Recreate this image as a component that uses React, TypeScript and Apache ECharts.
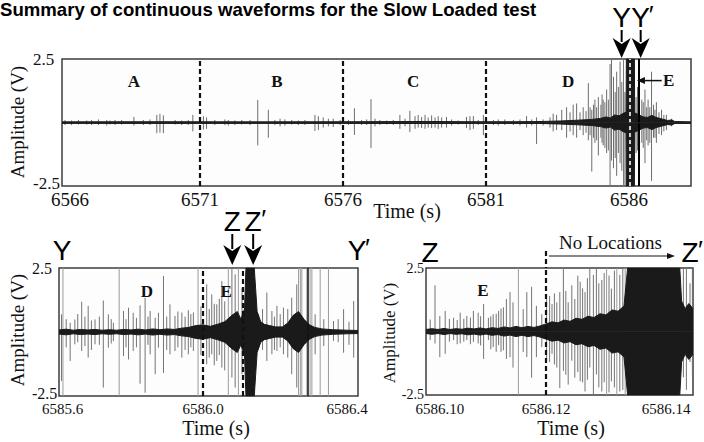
import { useEffect, useRef } from "react";
import * as echarts from "echarts";

const FIG_TITLE = "Summary of continuous waveforms for the Slow Loaded test";
const SERIF = '"Liberation Serif", "Times New Roman", serif';
const SANS = '"Liberation Sans", Arial, sans-serif';
const AMP = 2.5;

// ---------- Panel 1: whole record (s) ----------
const topRange = [6566.175, 6588.17];
const topTickLabelAt = [6566.455, 6571, 6576, 6581, 6586];
const topPhaseBoundaries = [6571, 6576, 6581];
const topSections: [string, number][] = [["A", 6568.69], ["B", 6573.69], ["C", 6578.45], ["D", 6583.87]];
// dense trace core: [time, half-amplitude V]
const topEnvelope = [
  [6566.18, 0.025], [6569.6, 0.03], [6573.0, 0.025], [6576.4, 0.03], [6579.0, 0.04], [6580.5, 0.03],
  [6582.0, 0.03], [6583.0, 0.04], [6583.6, 0.06], [6584.2, 0.09], [6584.7, 0.12], [6585.0, 0.16],
  [6585.2, 0.22], [6585.35, 0.18], [6585.5, 0.3], [6585.65, 0.26], [6585.8, 0.36], [6585.9, 0.4],
  [6585.91, 2.5], [6586.19, 2.5], [6586.2, 0.38], [6586.35, 0.3], [6586.5, 0.22], [6586.65, 0.2],
  [6586.8, 0.28], [6586.95, 0.2], [6587.15, 0.14], [6587.35, 0.08], [6587.5, 0.1], [6587.6, 0.04],
  [6588.17, 0.025],
];
// individual excursions: [time, up V, down V]
const topSpikes = [
  [6566.28, 0.1, 0.1], [6566.51, 0.08, 0.1], [6566.75, 0.1, 0.08], [6567.04, 0.08, 0.08], [6567.21, 0.1, 0.1],
  [6567.45, 0.12, 0.1], [6567.74, 0.1, 0.12], [6567.85, 0.08, 0.08], [6568.03, 0.1, 0.1], [6568.26, 0.1, 0.08],
  [6568.69, 0.22, 0.12], [6569.02, 0.1, 0.1], [6569.25, 0.12, 0.1], [6569.49, 0.3, 0.42], [6569.6, 0.34, 0.4],
  [6569.72, 0.28, 0.42], [6570.13, 0.1, 0.08], [6570.36, 0.08, 0.1], [6570.59, 0.1, 0.1], [6570.75, 0.3, 0.35],
  [6571.12, 0.25, 0.28], [6571.23, 0.2, 0.25], [6571.52, 0.1, 0.1], [6571.87, 0.12, 0.1], [6571.99, 0.1, 0.12],
  [6572.22, 0.08, 0.1], [6572.46, 0.1, 0.08], [6572.75, 0.1, 0.1], [6573.02, 0.89, 0.9], [6573.39, 0.5, 0.6],
  [6573.62, 0.1, 0.1], [6573.8, 0.15, 0.15], [6573.97, 0.12, 0.12], [6574.21, 0.1, 0.08], [6574.44, 0.08, 0.1],
  [6574.67, 0.1, 0.1], [6575.02, 0.3, 0.33], [6575.14, 0.25, 0.3], [6575.31, 0.2, 0.2], [6575.49, 0.15, 0.15],
  [6575.66, 0.15, 0.18], [6575.9, 0.1, 0.1], [6576.19, 0.1, 0.1], [6576.4, 0.56, 0.49], [6576.65, 0.1, 0.1],
  [6576.83, 0.12, 0.1], [6576.98, 0.92, 1.0], [6577.12, 0.15, 0.15], [6577.29, 0.1, 0.1], [6577.53, 0.08, 0.08],
  [6577.76, 0.1, 0.1], [6577.99, 0.3, 0.25], [6578.17, 0.15, 0.15], [6578.34, 0.46, 0.38], [6578.52, 0.25, 0.25],
  [6578.63, 0.3, 0.2], [6578.75, 0.22, 0.22], [6578.87, 0.3, 0.25], [6578.98, 0.2, 0.2], [6579.1, 0.28, 0.22],
  [6579.22, 0.2, 0.2], [6579.33, 0.25, 0.25], [6579.45, 0.2, 0.2], [6579.62, 0.22, 0.2], [6579.8, 0.12, 0.12],
  [6580.03, 0.08, 0.08], [6580.32, 0.22, 0.22], [6580.44, 0.25, 0.3], [6580.56, 0.25, 0.25], [6580.73, 0.1, 0.1],
  [6580.91, 0.3, 0.5], [6581.26, 0.1, 0.1], [6581.43, 0.12, 0.12], [6581.66, 0.12, 0.1], [6581.96, 0.1, 0.1],
  [6582.19, 0.12, 0.12], [6582.42, 0.25, 0.2], [6582.6, 0.12, 0.12], [6582.77, 0.2, 0.85], [6583.0, 0.12, 0.12],
  [6583.24, 0.2, 0.2], [6583.35, 0.35, 0.35], [6583.47, 0.3, 0.3], [6583.65, 0.5, 0.3], [6583.82, 0.6, 0.6],
  [6583.94, 0.4, 0.35], [6584.05, 0.7, 0.5], [6584.17, 0.75, 0.6], [6584.29, 0.4, 0.3], [6584.4, 0.6, 0.5],
  [6584.5, 0.45, 0.4], [6584.58, 1.55, 0.7], [6584.64, 0.6, 0.5], [6584.7, 0.5, 1.93], [6584.76, 0.7, 0.6],
  [6584.81, 0.9, 0.8], [6584.87, 0.6, 0.7], [6584.93, 1.0, 1.3], [6585.02, 0.7, 0.6], [6585.06, 1.1, 0.8],
  [6585.1, 0.9, 0.9], [6585.16, 0.8, 1.0], [6585.22, 1.3, 1.2], [6585.28, 0.9, 1.1], [6585.34, 2.3, 2.5],
  [6585.39, 2.5, 1.5], [6585.46, 1.8, 1.8], [6585.52, 1.2, 1.4], [6585.57, 2.0, 2.1], [6585.63, 1.4, 1.2],
  [6585.69, 2.4, 1.6], [6585.75, 1.6, 1.9], [6585.81, 2.5, 2.5], [6585.86, 1.2, 2.5], [6586.25, 1.0, 1.2],
  [6586.3, 1.4, 1.1], [6586.45, 0.9, 0.8], [6586.5, 0.8, 1.0], [6586.56, 1.3, 1.6], [6586.62, 0.6, 0.7],
  [6586.67, 0.9, 0.9], [6586.73, 0.6, 0.8], [6586.79, 2.0, 2.3], [6586.86, 0.7, 0.6], [6586.91, 0.5, 0.6],
  [6586.96, 0.8, 0.8], [6587.05, 0.4, 0.45], [6587.14, 0.5, 0.5], [6587.22, 0.3, 0.35], [6587.31, 0.3, 0.3],
  [6587.49, 0.15, 0.15],
];
const topWindowDash = [6586.03];
const topWindowEdge = [6586.36];
const topArrows: [string, number][] = [["Y", 6585.745], ["Y′", 6586.41]];
const topEPointer = { text: "E", tip: 6586.28, labelAt: 6587.39, amp: 1.65 };

// ---------- Panel 2: Y – Y′ ----------
const ylRange = [6585.6, 6586.43];
const ylTickLabelAt = [6585.61, 6586.0, 6586.4];
const ylBoundaries = [6586.0, 6586.114];
const ylSections: [string, number][] = [["D", 6585.844], ["E", 6586.064]];
const ylEnvelope = [
  [6585.6, 0.08], [6585.62, 0.11], [6585.64, 0.07], [6585.66, 0.1], [6585.68, 0.08], [6585.7, 0.1],
  [6585.72, 0.07], [6585.74, 0.09], [6585.76, 0.07], [6585.78, 0.1], [6585.8, 0.08], [6585.82, 0.11],
  [6585.84, 0.08], [6585.86, 0.12], [6585.88, 0.09], [6585.9, 0.12], [6585.92, 0.1], [6585.94, 0.15],
  [6585.96, 0.18], [6585.98, 0.25], [6586.0, 0.28], [6586.02, 0.22], [6586.04, 0.3], [6586.06, 0.4],
  [6586.08, 0.65], [6586.095, 0.8], [6586.105, 0.5], [6586.115, 0.9], [6586.119, 2.5], [6586.142, 2.5],
  [6586.15, 0.8], [6586.16, 0.4], [6586.17, 0.3], [6586.185, 0.25], [6586.2, 0.2], [6586.22, 0.2],
  [6586.235, 0.35], [6586.25, 0.65], [6586.265, 0.8], [6586.28, 0.5], [6586.295, 0.28], [6586.31, 0.18],
  [6586.33, 0.12], [6586.36, 0.09], [6586.4, 0.07], [6586.43, 0.06],
];
const ylSpikes = [
  [6585.607, 0.69, 1.91], [6585.611, 2.5, 2.5], [6585.62, 0.5, 0.6], [6585.631, 0.36, 1.13], [6585.644, 0.49, 0.48],
  [6585.652, 0.7, 0.4], [6585.663, 1.18, 0.74], [6585.672, 0.6, 0.55], [6585.681, 1.02, 1.0], [6585.69, 0.45, 0.7],
  [6585.7, 0.49, 0.48], [6585.712, 0.6, 0.5], [6585.723, 1.23, 2.17], [6585.737, 0.69, 0.61], [6585.745, 0.5, 0.45],
  [6585.751, 0.36, 0.35], [6585.767, 2.5, 2.5], [6585.779, 0.82, 0.94], [6585.786, 0.5, 0.6],
  [6585.793, 0.95, 1.07], [6585.806, 0.75, 0.74], [6585.815, 0.55, 0.6], [6585.825, 1.04, 2.02], [6585.839, 1.34, 2.37],
  [6585.847, 0.6, 0.5], [6585.853, 0.82, 0.87], [6585.867, 0.56, 1.65], [6585.876, 0.75, 0.61], [6585.89, 2.19, 1.6],
  [6585.899, 0.6, 0.7], [6585.908, 1.08, 0.87], [6585.922, 0.63, 0.74], [6585.93, 0.8, 0.6], [6585.941, 0.76, 1.0],
  [6585.95, 0.6, 0.7], [6585.959, 0.85, 0.87], [6585.966, 0.7, 0.6], [6585.973, 0.76, 0.74], [6585.986, 2.5, 2.5],
  [6585.994, 1.0, 0.9], [6586.01, 1.86, 1.26], [6586.017, 0.9, 1.0], [6586.024, 1.47, 0.87], [6586.031, 1.1, 1.3],
  [6586.038, 1.08, 1.13], [6586.045, 1.3, 0.9], [6586.052, 1.99, 1.39], [6586.06, 1.2, 1.5], [6586.07, 2.5, 2.5],
  [6586.08, 2.5, 1.78], [6586.089, 2.25, 2.17], [6586.098, 2.5, 2.5], [6586.108, 1.73, 1.65], [6586.154, 0.69, 0.61],
  [6586.165, 0.9, 0.7], [6586.177, 1.54, 1.13], [6586.191, 0.82, 0.87], [6586.198, 0.6, 0.7], [6586.205, 1.02, 0.74],
  [6586.214, 0.7, 0.6], [6586.223, 0.95, 0.87], [6586.235, 0.9, 1.0], [6586.246, 1.34, 1.65], [6586.26, 1.86, 2.17],
  [6586.265, 2.5, 2.5], [6586.27, 2.5, 2.5], [6586.274, 2.5, 2.5], [6586.288, 2.5, 2.5], [6586.297, 2.5, 2.5],
  [6586.302, 2.5, 2.5], [6586.311, 0.69, 0.87], [6586.325, 2.5, 2.5], [6586.335, 0.5, 0.55], [6586.348, 2.5, 2.5],
  [6586.362, 0.43, 0.35], [6586.375, 0.5, 0.4], [6586.39, 0.89, 0.81], [6586.405, 0.4, 0.5], [6586.418, 1.21, 1.0],
];
const ylEventEdge = [6586.293];
const ylArrows: [string, number][] = [["Z", 6586.081], ["Z′", 6586.139]];

// ---------- Panel 3: Z – Z′ ----------
const zlRange = [6586.1, 6586.1445];
const zlTickLabelAt = [6586.1023, 6586.12, 6586.14];
const zlBoundaries = [6586.12];
const zlSections: [string, number][] = [["E", 6586.1095]];
const zlEnvelope = [
  [6586.1, 0.08], [6586.101, 0.11], [6586.102, 0.08], [6586.103, 0.12], [6586.104, 0.08], [6586.105, 0.11],
  [6586.106, 0.09], [6586.107, 0.13], [6586.108, 0.1], [6586.109, 0.14], [6586.11, 0.1], [6586.111, 0.15],
  [6586.112, 0.12], [6586.113, 0.18], [6586.114, 0.14], [6586.115, 0.2], [6586.116, 0.15], [6586.117, 0.2],
  [6586.118, 0.16], [6586.119, 0.22], [6586.12, 0.3], [6586.121, 0.38], [6586.122, 0.34], [6586.123, 0.45],
  [6586.124, 0.4], [6586.125, 0.52], [6586.126, 0.48], [6586.127, 0.6], [6586.128, 0.55], [6586.129, 0.7],
  [6586.13, 0.65], [6586.131, 0.85], [6586.132, 0.8], [6586.133, 1.0], [6586.1336, 2.5], [6586.1423, 2.5],
  [6586.1426, 1.2], [6586.1432, 0.9], [6586.1438, 1.1], [6586.1445, 0.9],
];
const zlSpikes = [
  [6586.1007, 0.47, 0.34], [6586.1015, 1.82, 0.47], [6586.1023, 0.61, 1.01], [6586.1032, 0.81, 0.88],
  [6586.1039, 0.5, 0.4], [6586.1046, 0.54, 0.34], [6586.1052, 0.45, 0.5], [6586.1057, 0.74, 0.47],
  [6586.1063, 0.5, 0.4], [6586.1068, 0.61, 0.34], [6586.1074, 0.55, 0.5], [6586.1079, 0.81, 0.41],
  [6586.1087, 0.74, 0.47], [6586.1091, 0.6, 0.55], [6586.1096, 1.08, 1.08], [6586.1104, 0.54, 0.34],
  [6586.1108, 0.6, 0.7], [6586.1112, 0.68, 0.61], [6586.1117, 0.7, 0.8], [6586.1121, 0.81, 0.54],
  [6586.1125, 0.9, 0.8], [6586.1129, 0.95, 0.74], [6586.1134, 1.28, 1.08], [6586.114, 1.55, 1.01],
  [6586.1145, 1.15, 1.42], [6586.1154, 2.5, 2.5], [6586.1162, 0.88, 0.81], [6586.1168, 1.55, 1.01],
  [6586.1176, 1.76, 1.82], [6586.1184, 1.01, 1.01], [6586.1193, 0.68, 0.61], [6586.1201, 1.28, 1.15],
  [6586.1206, 1.4, 1.2], [6586.121, 1.08, 0.88], [6586.1214, 1.5, 1.3], [6586.1218, 1.15, 1.42],
  [6586.1223, 1.55, 2.23], [6586.1229, 2.5, 1.55], [6586.1233, 1.6, 1.7], [6586.1237, 1.15, 2.09],
  [6586.1243, 1.82, 1.15], [6586.1248, 1.28, 1.82], [6586.1253, 2.2, 1.6], [6586.1257, 1.96, 1.96],
  [6586.1261, 1.7, 2.0], [6586.1265, 1.55, 2.36], [6586.1269, 2.1, 1.9], [6586.1273, 2.5, 1.42],
  [6586.1279, 2.23, 2.5], [6586.1284, 2.5, 1.69], [6586.1288, 1.9, 2.2], [6586.1293, 2.03, 2.36],
  [6586.1297, 2.3, 2.0], [6586.1301, 2.5, 2.5], [6586.1305, 2.2, 2.4], [6586.1309, 1.69, 1.96],
  [6586.1314, 2.4, 2.2], [6586.1318, 2.5, 2.5], [6586.1323, 2.23, 2.36], [6586.1328, 2.5, 2.3],
  [6586.1332, 2.5, 2.5], [6586.1429, 2.5, 1.8], [6586.1434, 2.5, 2.3], [6586.144, 1.9, 1.2], [6586.1444, 2.5, 1.7],
];
const zlNote = { text: "No Locations", from: 6586.12, to: 6586.1415 };
const zlEnds: [string, number][] = [["Z", 6586.1], ["Z′", 6586.1445]];
const ylEnds: [string, number][] = [["Y", 6585.6], ["Y′", 6586.43]];

// ---------- layout ----------
const grids = [
  { left: 62, top: 59, width: 629, height: 127 },
  { left: 59, top: 268, width: 299, height: 128 },
  { left: 426, top: 268, width: 267, height: 127 },
];

const dashStyle = { color: "#111", width: 2.2, type: [5, 3] as number[] };

function spikeSeries(idx: number, data: number[][], color: string, fullColor: string) {
  return {
    type: "custom",
    xAxisIndex: idx,
    yAxisIndex: idx,
    data,
    z: 2,
    silent: true,
    clip: true,
    encode: { x: 0, y: [1, 2] },
    renderItem: (_p: any, api: any) => {
      const t = api.value(0);
      const up = api.value(1);
      const dn = api.value(2);
      const a = api.coord([t, up]);
      const b = api.coord([t, -dn]);
      const full = up >= AMP && dn >= AMP;
      return {
        type: "line",
        shape: { x1: a[0], y1: a[1], x2: b[0], y2: b[1] },
        style: { stroke: full ? fullColor : color, lineWidth: 1 },
      };
    },
  };
}

function envelopeSeries(idx: number, data: number[][], sign: number, markLine?: any) {
  return {
    type: "line",
    xAxisIndex: idx,
    yAxisIndex: idx,
    data: data.map(([t, a]) => [t, sign * a]),
    symbol: "none",
    showSymbol: false,
    silent: true,
    z: 3,
    lineStyle: { color: "#1a1a1a", width: 1 },
    areaStyle: { color: "#1a1a1a", opacity: 1 },
    markLine,
  };
}

function marks(dashed: number[], extra: { t: number; style: any }[] = []) {
  return {
    symbol: "none",
    silent: true,
    label: { show: false },
    animation: false,
    data: [
      ...dashed.map((t) => ({ xAxis: t, lineStyle: dashStyle })),
      ...extra.map((e) => ({ xAxis: e.t, lineStyle: e.style })),
    ],
  };
}

// zero line of the trace, closes the seam between upper and lower cores
const zeroLine = {
  symbol: "none",
  silent: true,
  label: { show: false },
  animation: false,
  data: [{ yAxis: 0, lineStyle: { color: "#1a1a1a", width: 1.6, type: "solid" } }],
};

function buildOption() {
  const xCfg = (idx: number, range: number[], labels: number[], digits: number, fontSize: number, margin: number) => ({
    type: "value",
    gridIndex: idx,
    min: range[0],
    max: range[1],
    axisLine: { show: false },
    axisTick: { show: false },
    splitLine: { show: false },
    axisLabel: {
      customValues: labels,
      formatter: (v: number) => v.toFixed(digits),
      fontFamily: SERIF,
      fontSize,
      color: "#111",
      margin,
    },
  });
  // the lower amplitude label sits slightly above the frame's bottom edge
  const yCfg = (idx: number, fontSize: number, margin: number, align: string, lift: number) => ({
    type: "value",
    gridIndex: idx,
    min: -AMP,
    max: AMP,
    axisLine: { show: false },
    axisTick: { show: false },
    splitLine: { show: false },
    axisLabel: {
      customValues: [-AMP, AMP],
      formatter: (v: number) => (v < 0 ? `{lo|${v.toFixed(1)}}` : `{hi|${v.toFixed(1)}}`),
      fontFamily: SERIF,
      fontSize,
      color: "#111",
      margin,
      align,
      rich: {
        lo: { fontFamily: SERIF, fontSize, color: "#111", padding: [0, 0, lift, 0] },
        hi: { fontFamily: SERIF, fontSize, color: "#111" },
      },
    },
  });
  return {
    animation: false,
    backgroundColor: "#ffffff",
    grid: grids.map((g) => ({ ...g, show: true, backgroundColor: "#fdfdfd", borderColor: "#3c3c3c", borderWidth: 1.5 })),
    xAxis: [
      xCfg(0, topRange, topTickLabelAt, 0, 19, 4),
      xCfg(1, ylRange, ylTickLabelAt, 1, 15, 5),
      xCfg(2, zlRange, zlTickLabelAt, 2, 15, 6),
    ],
    yAxis: [yCfg(0, 17, 29, "left", 5), yCfg(1, 16, 27, "left", 6), yCfg(2, 14, 2, "right", 2)],
    series: [
      spikeSeries(0, topSpikes, "#6e6e6e", "#7a7a7a"),
      envelopeSeries(0, topEnvelope, 1,
        marks(topPhaseBoundaries, [
          ...topWindowDash.map((t) => ({ t, style: { color: "#ffffff", width: 1.6, type: [4, 3] } })),
          ...topWindowEdge.map((t) => ({ t, style: { color: "#000", width: 2, type: "solid" } })),
        ])),
      envelopeSeries(0, topEnvelope, -1, zeroLine),
      spikeSeries(1, ylSpikes, "#747474", "#9c9c9c"),
      envelopeSeries(1, ylEnvelope, 1,
        marks(ylBoundaries, ylEventEdge.map((t) => ({ t, style: { color: "#111", width: 1.5, type: "solid" } })))),
      envelopeSeries(1, ylEnvelope, -1, zeroLine),
      spikeSeries(2, zlSpikes, "#747474", "#9c9c9c"),
      envelopeSeries(2, zlEnvelope, 1, marks(zlBoundaries)),
      envelopeSeries(2, zlEnvelope, -1, zeroLine),
    ],
  };
}

function buildGraphic(chart: any) {
  const px = (g: number, t: number, v: number) => chart.convertToPixel({ gridIndex: g }, [t, v]) as number[];
  const els: any[] = [];
  const text = (x: number, y: number, s: string, font: any, extra: any = {}) =>
    els.push({
      type: "text",
      x,
      y,
      silent: true,
      z: 20,
      ...extra,
      style: { text: s, fill: "#111", align: "center", verticalAlign: "middle", ...font },
    });
  const serif = (size: number, bold = false) => ({ fontFamily: SERIF, fontSize: size, fontWeight: bold ? "bold" : "normal" });
  const bigLetter = (cx: number, cy: number, s: string) => {
    text(cx, cy, s.charAt(0), { fontFamily: SANS, fontSize: 28, fill: "#000" });
    if (s.length > 1) text(cx + 8, cy - 2, s.slice(1), { fontFamily: SANS, fontSize: 26, fill: "#000", align: "left" });
  };
  const downArrow = (cx: number, stemTop: number, headTop: number, tip: number) => {
    els.push({ type: "line", silent: true, z: 20, shape: { x1: cx, y1: stemTop, x2: cx, y2: headTop + 4 }, style: { stroke: "#000", lineWidth: 2 } });
    els.push({
      type: "polygon",
      silent: true,
      z: 20,
      shape: { points: [[cx - 9, headTop], [cx, headTop + 6], [cx + 9, headTop], [cx, tip]] },
      style: { fill: "#000" },
    });
  };

  // title
  text(0, 9, FIG_TITLE, { fontFamily: SANS, fontSize: 18.6, fontWeight: "bold", align: "left", fill: "#000" });

  // axis titles
  const axisTitle = (x: number, y: number, s: string, size: number, vertical: boolean) =>
    text(x, y, s, serif(size), vertical ? { rotation: Math.PI / 2 } : {});
  axisTitle(17, 122, "Amplitude (V)", 19, true);
  axisTitle(407, 211, "Time (s)", 20, false);
  axisTitle(17, 330, "Amplitude (V)", 19, true);
  axisTitle(216, 428, "Time (s)", 20, false);
  axisTitle(389, 333, "Amplitude (V)", 17, true);
  axisTitle(571, 428, "Time (s)", 20, false);

  // phase letters
  topSections.forEach(([s, t]) => {
    const p = px(0, t, 1.62);
    text(p[0], p[1], s, serif(17, true));
  });
  ylSections.forEach(([s, t]) => {
    const p = px(1, t, 1.6);
    text(p[0], p[1], s, serif(17, true));
  });
  zlSections.forEach(([s, t]) => {
    const p = px(2, t, 1.6);
    text(p[0], p[1], s, serif(17, true));
  });

  // E pointer on the overview
  {
    const tip = px(0, topEPointer.tip, topEPointer.amp);
    const lab = px(0, topEPointer.labelAt, topEPointer.amp);
    els.push({ type: "line", silent: true, z: 20, shape: { x1: lab[0] - 7, y1: tip[1], x2: tip[0] + 5, y2: tip[1] }, style: { stroke: "#111", lineWidth: 1.5 } });
    els.push({ type: "polygon", silent: true, z: 20, shape: { points: [[tip[0], tip[1]], [tip[0] + 8, tip[1] - 3.5], [tip[0] + 8, tip[1] + 3.5]] }, style: { fill: "#111" } });
    text(lab[0], lab[1], topEPointer.text, serif(17, true));
  }

  // Y / Y′ window arrows on the overview
  topArrows.forEach(([s, t]) => {
    const x = px(0, t, AMP)[0];
    bigLetter(x, 17, s);
    downArrow(x, 30, 38, 58);
  });
  // Z / Z′ window arrows on the Y–Y′ panel
  ylArrows.forEach(([s, t]) => {
    const x = px(1, t, AMP)[0];
    bigLetter(x, 221, s);
    downArrow(x, 234, 245, 265);
  });
  // panel end letters
  ylEnds.forEach(([s, t], i) => bigLetter(px(1, t, AMP)[0] + (i === 0 ? 3 : -1), 250, s));
  zlEnds.forEach(([s, t], i) => bigLetter(px(2, t, AMP)[0] + (i === 0 ? 4 : -3), 252, s));

  // "No Locations" note
  {
    const a = px(2, zlNote.from, AMP);
    const b = px(2, zlNote.to, AMP);
    const y = a[1] - 12;
    els.push({ type: "line", silent: true, z: 20, shape: { x1: a[0], y1: a[1] - 17, x2: a[0], y2: a[1] }, style: { stroke: "#111", lineWidth: 2.2, lineDash: [5, 3] } });
    els.push({ type: "line", silent: true, z: 20, shape: { x1: a[0] + 3, y1: y, x2: b[0] - 4, y2: y }, style: { stroke: "#111", lineWidth: 1 } });
    els.push({ type: "polygon", silent: true, z: 20, shape: { points: [[b[0], y], [b[0] - 8, y - 3], [b[0] - 8, y + 3]] }, style: { fill: "#111" } });
    text((a[0] + b[0]) / 2, y - 14, zlNote.text, serif(19));
  }
  return els;
}

export default function App() {
  const ref = useRef<HTMLDivElement>(null);
  useEffect(() => {
    const chart = echarts.init(ref.current!, null, { renderer: "svg" });
    chart.setOption(buildOption() as any);
    chart.setOption({ graphic: buildGraphic(chart) } as any);
    return () => chart.dispose();
  }, []);
  return (
    <div
      ref={ref}
      style={{ position: "fixed", left: 0, top: 0, width: 704, height: 442, background: "#fff" }}
    />
  );
}
